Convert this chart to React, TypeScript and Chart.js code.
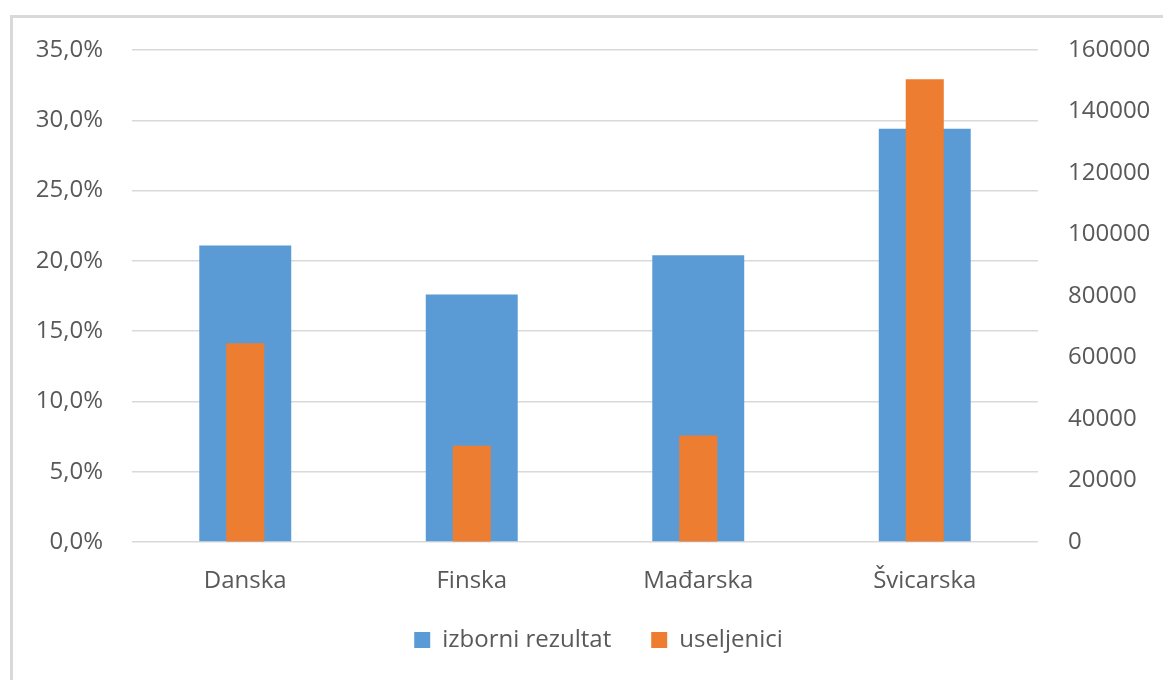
import React, { useEffect, useRef } from "react";
import { Chart, registerables } from "chart.js";

Chart.register(...registerables);

const categories = ["Danska", "Finska", "Mađarska", "Švicarska"];
const izborniRezultat = [21.1, 17.6, 20.4, 29.4];
const useljenici = [64600, 31300, 34600, 150500];
const seriesNames = ["izborni rezultat", "useljenici"];

const FONT = "'Open Sans', 'Noto Sans', sans-serif";
const TEXT = "#595959";
const GRID = "#d9d9d9";

export default function App() {
  const ref = useRef<HTMLCanvasElement | null>(null);

  useEffect(() => {
    if (!ref.current) return;
    const chart = new Chart(ref.current, {
      type: "bar",
      data: {
        labels: categories,
        datasets: [
          {
            label: seriesNames[0],
            data: izborniRezultat,
            backgroundColor: "#5b9bd5",
            yAxisID: "y",
            grouped: false,
            barPercentage: 0.406,
            categoryPercentage: 1,
            order: 1,
          },
          {
            label: seriesNames[1],
            data: useljenici,
            backgroundColor: "#ed7d31",
            yAxisID: "y1",
            grouped: false,
            barPercentage: 0.168,
            categoryPercentage: 1,
            order: 0,
          },
        ],
      },
      options: {
        animation: false,
        responsive: false,
        maintainAspectRatio: false,
        layout: { padding: { top: 50, left: 34, right: 0, bottom: 18 } },
        plugins: {
          tooltip: { enabled: false },
          legend: {
            position: "bottom",
            labels: {
              sort: (a: any, b: any) => a.datasetIndex - b.datasetIndex,
              boxWidth: 16,
              boxHeight: 16,
              padding: 40,
              color: TEXT,
              font: { family: FONT, size: 24 },
            },
          },
        },
        scales: {
          x: {
            grid: { display: false },
            border: { display: false },
            ticks: { color: TEXT, font: { family: FONT, size: 24 }, padding: 17 },
            afterFit: (s: any) => {
              s.height = 46;
            },
          },
          y: {
            position: "left",
            min: 0,
            max: 35,
            ticks: {
              stepSize: 5,
              color: TEXT,
              font: { family: FONT, size: 24 },
              padding: 29,
              callback: (v: any) => Number(v).toFixed(1).replace(".", ",") + "%",
            },
            grid: { color: GRID, lineWidth: 1.5, drawTicks: false },
            border: { display: false },
            afterFit: (s: any) => {
              s.width = 98;
            },
          },
          y1: {
            position: "right",
            min: 0,
            max: 160000,
            ticks: {
              stepSize: 20000,
              color: TEXT,
              font: { family: FONT, size: 24 },
              padding: 30,
              callback: (v: any) => String(v),
            },
            grid: { drawOnChartArea: false, drawTicks: false },
            border: { display: false },
            afterFit: (s: any) => {
              s.width = 125;
            },
          },
        },
      },
    });
    return () => chart.destroy();
  }, []);

  return (
    <div
      style={{
        position: "fixed",
        left: 0,
        top: 0,
        width: 1163,
        height: 680,
        overflow: "hidden",
        background: "#fff",
      }}
    >
      <div
        style={{
          position: "absolute",
          left: 10,
          top: 15,
          width: 1200,
          height: 720,
          border: "3px solid #d9d9d9",
          boxSizing: "border-box",
        }}
      />
      <div style={{ position: "absolute", left: 0, top: 0, width: 1163, height: 680 }}>
        <canvas ref={ref} width={1163} height={680} style={{ width: 1163, height: 680 }} />
      </div>
    </div>
  );
}
